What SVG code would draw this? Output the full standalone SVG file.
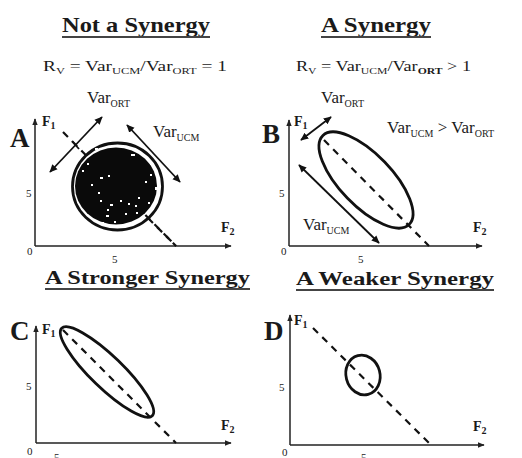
<svg xmlns="http://www.w3.org/2000/svg" width="522" height="458" viewBox="0 0 522 458">
<defs>
<marker id="ax" viewBox="0 0 10 10" refX="9" refY="5" markerWidth="7" markerHeight="7" markerUnits="userSpaceOnUse" orient="auto"><path d="M0,1 L10,5 L0,9 Z" fill="#222"/></marker>
<marker id="va" viewBox="0 0 10 10" refX="9" refY="5" markerWidth="8" markerHeight="8" markerUnits="userSpaceOnUse" orient="auto-start-reverse"><path d="M0,0.5 L10,5 L0,9.5 Z" fill="#111"/></marker>
<style>
text{font-family:"Liberation Serif","Times New Roman",serif;fill:#1a1a1a}
.h{font-size:21px;font-weight:bold}
.h2{font-size:19px;font-weight:bold}
.ul{stroke:#444;stroke-width:2}
.eq{font-size:14px}
.sub{font-size:9px}
.big{font-size:27px;font-weight:bold}
.f{font-size:14px;font-weight:bold}
.fs{font-size:10px;font-weight:bold}
.n{font-size:11px}
.v{font-size:17px}
.vs{font-size:10px}
.axis{stroke:#222;stroke-width:1.5;fill:none;marker-end:url(#ax)}
.dash{stroke:#111;stroke-width:2.2;stroke-dasharray:7,6;fill:none}
.dv{stroke:#111;stroke-width:1.8;fill:none;marker-start:url(#va);marker-end:url(#va)}
.el{stroke:#111;stroke-width:2.8;fill:none}
</style>
</defs>

<g id="titles">
<text class="h" x="62" y="32" textLength="148" lengthAdjust="spacingAndGlyphs">Not a Synergy</text>
<line class="ul" x1="62" y1="37" x2="210" y2="37"/>
<text class="h" x="321" y="32" textLength="110" lengthAdjust="spacingAndGlyphs">A Synergy</text>
<line class="ul" x1="321" y1="37" x2="431" y2="37"/>
<text class="h2" x="45" y="284" textLength="205" lengthAdjust="spacingAndGlyphs">A Stronger Synergy</text>
<line class="ul" x1="45" y1="289" x2="250" y2="289"/>
<text class="h2" x="296" y="285" textLength="198" lengthAdjust="spacingAndGlyphs">A Weaker Synergy</text>
<line class="ul" x1="296" y1="290" x2="494" y2="290"/>
<text class="eq" x="43" y="71" textLength="184" lengthAdjust="spacingAndGlyphs">R<tspan class="sub" dy="3">V</tspan><tspan dy="-3"> = Var</tspan><tspan class="sub" dy="3">UCM</tspan><tspan dy="-3">/Var</tspan><tspan class="sub" dy="3">ORT</tspan><tspan dy="-3"> = 1</tspan></text>
<text class="eq" x="296" y="71" textLength="175" lengthAdjust="spacingAndGlyphs">R<tspan class="sub" dy="3">V</tspan><tspan dy="-3"> = Var</tspan><tspan class="sub" dy="3">UCM</tspan><tspan dy="-3">/Var</tspan><tspan class="sub" dy="3" font-weight="bold">ORT</tspan><tspan dy="-3"> &gt; 1</tspan></text>
</g>

<g id="panelA">
<line class="axis" x1="35" y1="246" x2="35" y2="119"/>
<line class="axis" x1="35" y1="246" x2="231" y2="246"/>
<text class="big" x="10" y="147">A</text>
<text class="f" x="42" y="126">F<tspan class="fs" dy="3">1</tspan></text>
<text class="n" x="26" y="197">5</text>
<text class="n" x="27" y="255">0</text>
<text class="n" x="112" y="263">5</text>
<text class="f" x="221" y="232">F<tspan class="fs" dy="3">2</tspan></text>
<line class="dash" x1="63" y1="132" x2="176" y2="246"/>
<ellipse cx="116" cy="186" rx="41" ry="38.5" fill="#0a0a0a"/>
<ellipse class="el" cx="117.5" cy="186.5" rx="45" ry="43.5" stroke-width="2.2"/>
<g fill="#fff">
<rect x="95" y="148" width="3" height="2"/><rect x="131" y="154" width="4" height="2"/><rect x="136" y="141" width="5" height="2"/><rect x="150" y="163" width="2" height="2"/><rect x="150" y="174" width="2" height="2"/><rect x="100" y="177" width="3" height="2"/><rect x="108" y="175" width="2" height="2"/><rect x="91" y="184" width="2" height="2"/><rect x="145" y="181" width="2" height="2"/><rect x="98" y="192" width="2" height="2"/><rect x="138" y="197" width="2" height="2"/><rect x="100" y="200" width="2" height="2"/><rect x="110" y="204" width="3" height="2"/><rect x="120" y="200" width="2" height="2"/><rect x="128" y="203" width="2" height="2"/><rect x="135" y="205" width="2" height="2"/><rect x="107" y="209" width="2" height="2"/><rect x="148" y="202" width="2" height="2"/><rect x="155" y="187" width="3" height="3"/><rect x="106" y="215" width="3" height="2"/><rect x="125" y="213" width="2" height="2"/><rect x="136" y="212" width="2" height="2"/><rect x="102" y="222" width="2" height="2"/><rect x="114" y="221" width="2" height="2"/><rect x="87" y="163" width="2" height="2"/><rect x="82" y="170" width="2" height="2"/>
</g>
<line class="dash" x1="148" y1="218" x2="176" y2="246" stroke-dasharray="8,6"/>
<line class="dv" x1="50" y1="172" x2="102" y2="117"/>
<line x1="72" y1="141" x2="79" y2="149" stroke="#111" stroke-width="1.8"/>
<text class="v" x="87" y="103">Var<tspan class="vs" dy="4">ORT</tspan></text>
<line class="dv" x1="127" y1="125" x2="180" y2="182"/>
<text class="v" x="153" y="137">Var<tspan class="vs" dy="4">UCM</tspan></text>
</g>

<g id="panelB">
<line class="axis" x1="289" y1="246" x2="289" y2="120"/>
<line class="axis" x1="289" y1="246" x2="482" y2="246"/>
<text class="big" x="262" y="143">B</text>
<text class="f" x="294" y="126">F<tspan class="fs" dy="3">1</tspan></text>
<text class="n" x="279" y="197">5</text>
<text class="n" x="281" y="255">0</text>
<text class="n" x="358" y="263">5</text>
<text class="f" x="473" y="232">F<tspan class="fs" dy="3">2</tspan></text>
<line class="dash" x1="324" y1="140" x2="429" y2="246"/>
<ellipse class="el" cx="366" cy="180" rx="62" ry="26" transform="rotate(46 366 180)"/>
<line class="dv" x1="301" y1="140" x2="331" y2="117"/>
<text class="v" x="321" y="103">Var<tspan class="vs" dy="4">ORT</tspan></text>
<text class="v" x="387" y="133">Var<tspan class="vs" dy="4">UCM</tspan><tspan dy="-4"> &gt; Var</tspan><tspan class="vs" dy="4">ORT</tspan></text>
<line class="dv" x1="299" y1="165" x2="379" y2="243"/>
<text class="v" x="303" y="230">Var<tspan class="vs" dy="4">UCM</tspan></text>
</g>

<g id="panelC">
<line class="axis" x1="36" y1="443" x2="36" y2="326"/>
<line class="axis" x1="36" y1="443" x2="231" y2="443"/>
<text class="big" x="10" y="340">C</text>
<text class="f" x="42" y="334">F<tspan class="fs" dy="3">1</tspan></text>
<text class="n" x="26" y="390">5</text>
<text class="n" x="27" y="455">0</text>
<text class="n" x="54" y="461">5</text>
<text class="f" x="221" y="430">F<tspan class="fs" dy="3">2</tspan></text>
<line class="dash" x1="63" y1="330" x2="176" y2="443"/>
<ellipse class="el" cx="107" cy="372" rx="63" ry="16" transform="rotate(44 107 372)"/>
</g>

<g id="panelD">
<line class="axis" x1="290" y1="445" x2="290" y2="315"/>
<line class="axis" x1="290" y1="445" x2="484" y2="445"/>
<text class="big" x="264" y="340">D</text>
<text class="f" x="294" y="325">F<tspan class="fs" dy="3">1</tspan></text>
<text class="n" x="279" y="391">5</text>
<text class="n" x="282" y="456">0</text>
<text class="n" x="361" y="461">5</text>
<text class="f" x="473" y="431">F<tspan class="fs" dy="3">2</tspan></text>
<line class="dash" x1="313" y1="328" x2="431" y2="445"/>
<ellipse class="el" cx="363" cy="375" rx="17" ry="20" transform="rotate(-15 363 375)"/>
</g>
</svg>
